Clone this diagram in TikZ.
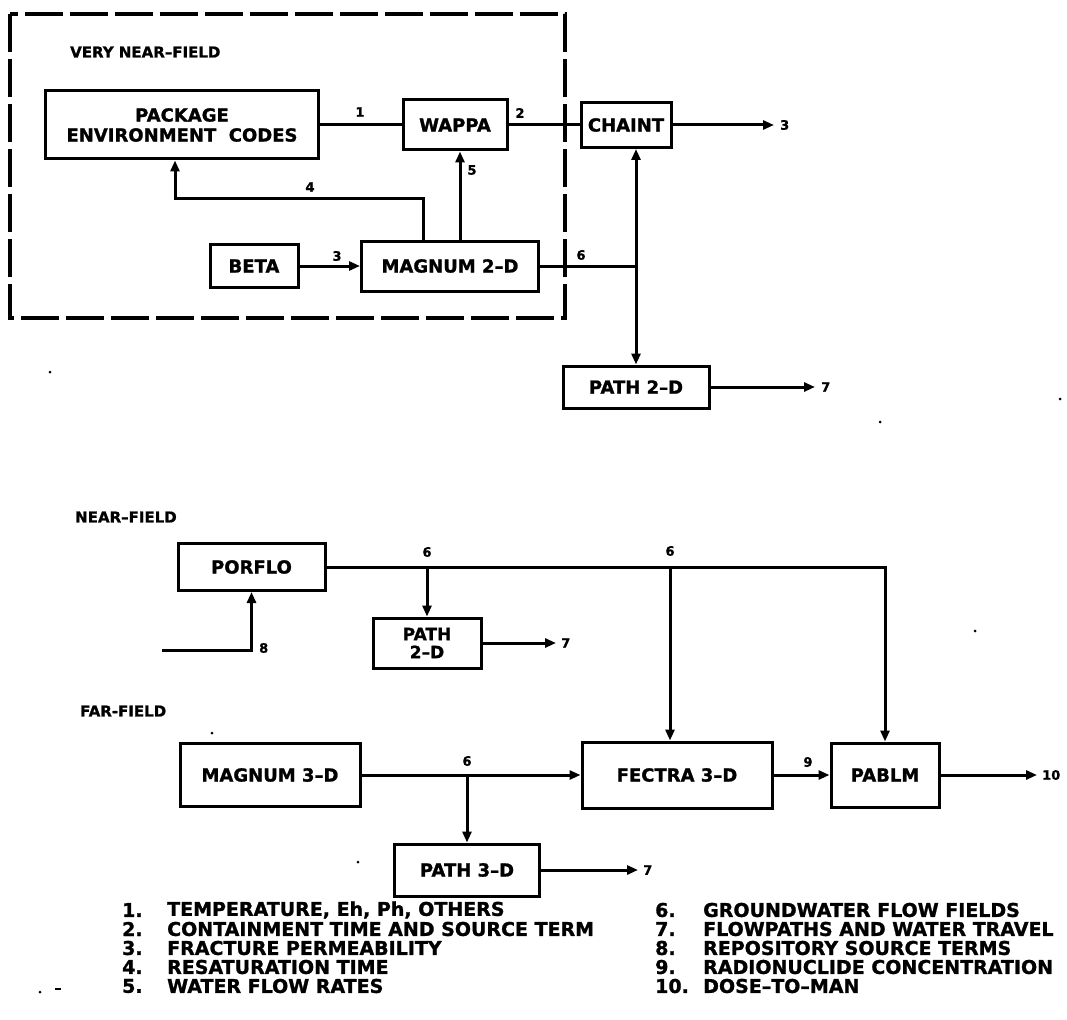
\documentclass[tikz,border=0pt]{standalone}
\usepackage{fontspec}
\setmainfont{DejaVu Sans}
\newfontfamily\heavy{DejaVu Sans Bold}[Ligatures=TeX,FakeBold=1.2]
\usetikzlibrary{arrows.meta}
\begin{document}
\begin{tikzpicture}[x=1pt,y=-1pt,
  box/.style={draw,line width=3pt,inner sep=0pt,align=center,font=\heavy\fontsize{18}{20}\selectfont},
  ln/.style={line width=3pt},
  arr/.style={line width=3pt,-{Triangle[length=11pt,width=9pt]}},
  darr/.style={line width=3pt,{Triangle[length=11pt,width=9pt]}-{Triangle[length=11pt,width=9pt]}},
  lbl/.style={font=\heavy\fontsize{13}{14}\selectfont,inner sep=0pt},
  hdr/.style={font=\heavy\fontsize{15}{16}\selectfont,anchor=west,inner sep=0pt},
  leg/.style={font=\heavy\fontsize{19}{19}\selectfont,anchor=west,inner sep=0pt},
  frame/.style={line width=3.5pt,dash pattern=on 38pt off 7pt},
  speck/.style={fill=black,inner sep=0pt,circle,minimum size=3pt}]
\useasboundingbox (0,0) rectangle (1067,1019);

% very near-field frame
\draw[frame] (10,14) rectangle (565,318);
\node[hdr] (hvnf) at (70,52) {VERY NEAR–FIELD};

% top boxes
\node[box,minimum width=273pt,minimum height=68pt] (pec) at (182,125) {PACKAGE\\ENVIRONMENT\ \ CODES};
\node[box,minimum width=104pt,minimum height=50pt] (wappa) at (455,125) {WAPPA};
\node[box,minimum width=90pt,minimum height=45pt] (chaint) at (626,125) {CHAINT};
\node[box,minimum width=88pt,minimum height=43pt] (beta) at (254,266) {BETA};
\node[box,minimum width=177pt,minimum height=50pt] (mag2) at (450,266) {MAGNUM 2–D};
\node[box,minimum width=146pt,minimum height=42pt] (path2a) at (636,387) {PATH 2–D};

\coordinate (x4) at (423,0);
\coordinate (b4) at (175,198);
\coordinate (x5) at (460,0);
\coordinate (j6) at (636,266);
\coordinate (e3) at (774,125);
\coordinate (e7a) at (815,387);

\draw[ln] (pec.east) -- (wappa.west);
\draw[ln] (wappa.east) -- (chaint.west);
\draw[arr] (chaint.east) -- (e3);
\draw[arr] (mag2.north -| x4) |- (b4) -- (pec.south -| b4);
\draw[arr] (mag2.north -| x5) -- (wappa.south -| x5);
\draw[arr] (beta.east) -- (mag2.west);
\draw[ln] (mag2.east) -- (j6);
\draw[darr] (chaint.south -| j6) -- (path2a.north -| j6);
\draw[arr] (path2a.east) -- (e7a);

\node[lbl] (l1) at (360,112) {1};
\node[lbl] (l2) at (520,113) {2};
\node[lbl,anchor=west] (l3a) at (780,125) {3};
\node[lbl] (l4) at (310,187) {4};
\node[lbl] (l5) at (472,170) {5};
\node[lbl] (l3b) at (337,256) {3};
\node[lbl] (l6a) at (581,255) {6};
\node[lbl,anchor=west] (l7a) at (821,387) {7};

% near-field
\node[hdr] (hnf) at (75,517) {NEAR–FIELD};
\node[box,minimum width=147pt,minimum height=47pt] (porflo) at (251.5,567) {PORFLO};
\node[box,minimum width=108pt,minimum height=50pt,font=\heavy\fontsize{17}{18}\selectfont] (path2b) at (427,643) {PATH\\2–D};

% far-field
\node[hdr] (hff) at (80,711) {FAR-FIELD};
\node[box,minimum width=180pt,minimum height=63pt] (mag3) at (270,775) {MAGNUM 3–D};
\node[box,minimum width=145pt,minimum height=52pt] (path3) at (467,870) {PATH 3–D};
\node[box,minimum width=190pt,minimum height=66pt] (fectra) at (677,775) {FECTRA 3–D};
\node[box,minimum width=108pt,minimum height=64pt] (pablm) at (885,775) {PABLM};

\coordinate (j1) at (427,567);
\coordinate (j2) at (670,567);
\coordinate (in8) at (162,650);
\coordinate (e7b) at (556,643);
\coordinate (j3) at (467,775);
\coordinate (e7c) at (638,870);
\coordinate (e10) at (1037,775);

\draw[arr] (porflo.east) -| (pablm.north);
\draw[arr] (j1) -- (path2b.north);
\draw[arr] (j2) -- (fectra.north -| j2);
\draw[arr] (in8) -| (porflo.south);
\draw[arr] (path2b.east) -- (e7b);
\draw[arr] (mag3.east) -- (fectra.west);
\draw[arr] (j3) -- (path3.north);
\draw[arr] (path3.east) -- (e7c);
\draw[arr] (fectra.east) -- (pablm.west);
\draw[arr] (pablm.east) -- (e10);

\node[lbl] (l6b) at (427,552) {6};
\node[lbl] (l6c) at (670,551) {6};
\node[lbl,anchor=west] (l8) at (259,648) {8};
\node[lbl,anchor=west] (l7b) at (561,643) {7};
\node[lbl] (l6d) at (467,761) {6};
\node[lbl] (l9) at (808,762) {9};
\node[lbl,anchor=west] (l10) at (1042,775) {10};
\node[lbl,anchor=west] (l7c) at (643,870) {7};

% legend
\foreach \n/\t/\y [count=\i] in {1./{TEMPERATURE, Eh, Ph, OTHERS}/910,
    2./{CONTAINMENT TIME AND SOURCE TERM}/929,
    3./{FRACTURE PERMEABILITY}/948,
    4./{RESATURATION TIME}/967,
    5./{WATER FLOW RATES}/986}{
  \node[leg] (na\i) at (122,\y) {\n};
  \node[leg] (ta\i) at (167,\y) {\t};
}
\foreach \n/\t/\y [count=\i] in {6./{GROUNDWATER FLOW FIELDS}/910,
    7./{FLOWPATHS AND WATER TRAVEL}/929,
    8./{REPOSITORY SOURCE TERMS}/948,
    9./{RADIONUCLIDE CONCENTRATION}/967,
    10./{DOSE–TO–MAN}/986}{
  \node[leg] (nb\i) at (655,\y) {\n};
  \node[leg] (tb\i) at (703,\y) {\t};
}

% scan specks
\node[speck] (s1) at (50,372) {};
\node[speck] (s2) at (1060,399) {};
\node[speck] (s3) at (880,422) {};
\node[speck] (s4) at (975,631) {};
\node[speck] (s5) at (212,733) {};
\node[speck] (s6) at (358,862) {};
\node[speck] (s7) at (40,992) {};
\draw[line width=2pt] (55,989) -- (61,989);
\end{tikzpicture}
\end{document}
